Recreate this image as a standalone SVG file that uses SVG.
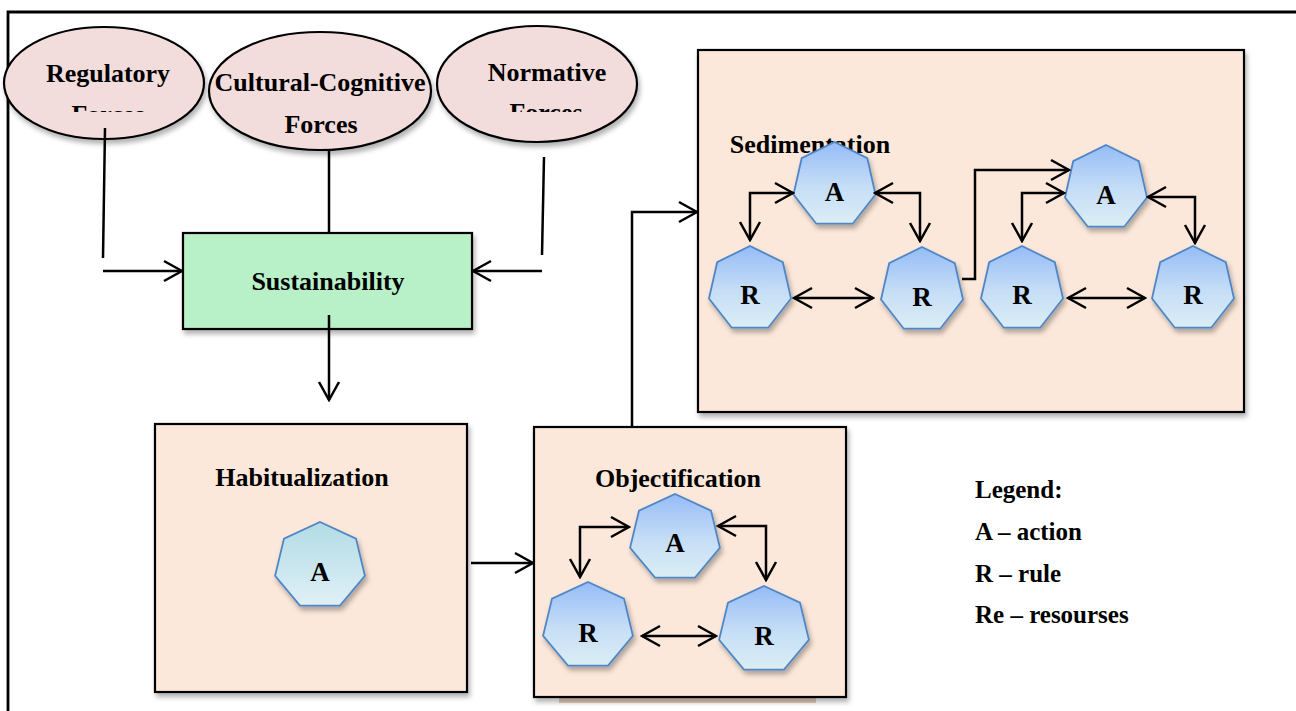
<svg xmlns="http://www.w3.org/2000/svg" width="1296" height="711" viewBox="0 0 1296 711">
  <style>
    .t { font-family: "Liberation Serif", "Times New Roman", serif; font-weight: bold; fill: #000; text-anchor: middle; }
    .big { font-size: 26px; }
    .lbl { font-size: 27px; }
    .leg { font-family: "Liberation Serif", "Times New Roman", serif; font-weight: bold; font-size: 25px; fill: #000; }
    .ell { fill: #f2dcdc; stroke: #000; stroke-width: 2.2; }
    .box { fill: #fce8da; stroke: #000; stroke-width: 2.2; }
    .grn { fill: #b8f0c8; stroke: #000; stroke-width: 2.2; }
    .hb { fill: url(#gBlue); stroke: #4f86c6; stroke-width: 1.8; }
    .ht { fill: url(#gTeal); stroke: #4f86c6; stroke-width: 1.8; }
    .c { fill: none; stroke: #000; stroke-width: 2.5; }
    .e { marker-end: url(#ah); }
    .b { marker-start: url(#ah); marker-end: url(#ah); }
  </style>
  <defs>
    <linearGradient id="gBlue" x1="0" y1="0" x2="0" y2="1">
      <stop offset="0" stop-color="#95bcf7"/>
      <stop offset="0.55" stop-color="#c6def6"/>
      <stop offset="1" stop-color="#dbeef5"/>
    </linearGradient>
    <linearGradient id="gTeal" x1="0" y1="0" x2="0" y2="1">
      <stop offset="0" stop-color="#b2dbe5"/>
      <stop offset="1" stop-color="#e0f0f6"/>
    </linearGradient>
    <filter id="sh" x="-20%" y="-20%" width="140%" height="140%">
      <feDropShadow dx="2" dy="4" stdDeviation="2.5" flood-color="#000" flood-opacity="0.3"/>
    </filter>
    <marker id="ah" markerUnits="userSpaceOnUse" viewBox="-21 -13 23 26" markerWidth="23" markerHeight="26" refX="0" refY="0" orient="auto-start-reverse">
      <path d="M-18,-10 L0,0 L-18,10" fill="none" stroke="#000" stroke-width="2.5"/>
    </marker>
    <polygon id="hep" points="0,-44 36,-27.4 44.9,9.8 20,39.6 -20,39.6 -44.9,9.8 -36,-27.4"/>
    <polygon id="heps" points="0,-43 32.8,-26.8 41,9.6 18.2,38.7 -18.2,38.7 -41,9.6 -32.8,-26.8"/>
    <clipPath id="clipTop"><rect x="0" y="0" width="700" height="112"/></clipPath>
  </defs>

  <!-- outer frame -->
  <path d="M8,711 V12 H1296" fill="none" stroke="#000" stroke-width="2.8"/>

  <g id="regulatory">
    <ellipse class="ell" cx="104" cy="83" rx="100" ry="56" filter="url(#sh)"/>
    <text class="t big" x="108" y="82">Regulatory</text>
    <text class="t big" x="108" y="123" clip-path="url(#clipTop)">Forces</text>
  </g>
  <g id="cultural">
    <ellipse class="ell" cx="320" cy="91" rx="111" ry="59" filter="url(#sh)"/>
    <text class="t big" x="320" y="91">Cultural-Cognitive</text>
    <text class="t big" x="321" y="133">Forces</text>
  </g>
  <g id="normative">
    <ellipse class="ell" cx="537" cy="84" rx="100" ry="58" filter="url(#sh)"/>
    <text class="t big" x="547" y="81">Normative</text>
    <text class="t big" x="546" y="121" clip-path="url(#clipTop)">Forces</text>
  </g>

  <g id="sustainability">
    <rect class="grn" x="183" y="233" width="289" height="96" filter="url(#sh)"/>
    <text class="t big" x="328" y="290">Sustainability</text>
  </g>

  <g id="habitualization">
    <rect class="box" x="155" y="424" width="312" height="268" filter="url(#sh)"/>
    <text class="t big" x="302" y="486">Habitualization</text>
    <use href="#hep" class="ht" x="320" y="566" filter="url(#sh)"/>
    <text class="t lbl" x="320" y="581">A</text>
  </g>

  <g id="objectification">
    <rect x="559" y="697" width="257" height="6" fill="#e6cdb9"/>
    <rect class="box" x="534" y="427" width="312" height="270" filter="url(#sh)"/>
    <text class="t big" x="678" y="487">Objectification</text>
    <use href="#hep" class="hb" x="675" y="538" filter="url(#sh)"/>
    <text class="t lbl" x="675" y="552">A</text>
    <use href="#hep" class="hb" x="588" y="626" filter="url(#sh)"/>
    <text class="t lbl" x="588" y="642">R</text>
    <use href="#hep" class="hb" x="764" y="630" filter="url(#sh)"/>
    <text class="t lbl" x="764" y="645">R</text>
  </g>

  <g id="sedimentation">
    <rect class="box" x="698" y="50" width="546" height="362" filter="url(#sh)"/>
    <text class="t big" x="810" y="153">Sedimentation</text>
    <use href="#heps" class="hb" x="834.5" y="185" filter="url(#sh)"/>
    <text class="t lbl" x="834.5" y="201">A</text>
    <use href="#heps" class="hb" x="750" y="289" filter="url(#sh)"/>
    <text class="t lbl" x="750" y="304">R</text>
    <use href="#heps" class="hb" x="922" y="290" filter="url(#sh)"/>
    <text class="t lbl" x="922" y="306">R</text>
    <use href="#heps" class="hb" x="1106" y="188" filter="url(#sh)"/>
    <text class="t lbl" x="1106" y="204">A</text>
    <use href="#heps" class="hb" x="1022" y="289" filter="url(#sh)"/>
    <text class="t lbl" x="1022" y="304">R</text>
    <use href="#heps" class="hb" x="1193" y="289" filter="url(#sh)"/>
    <text class="t lbl" x="1193" y="304">R</text>
  </g>

  <g id="legend">
    <text class="leg" x="975" y="498">Legend:</text>
    <text class="leg" x="975" y="540">A – action</text>
    <text class="leg" x="975" y="582">R – rule</text>
    <text class="leg" x="975" y="623">Re – resourses</text>
  </g>

  <g id="connectors">
    <path class="c" d="M105,128 L103,258"/>
    <path class="c e" d="M103,271 H182"/>
    <path class="c" d="M329,150 V233"/>
    <path class="c" d="M544,157 L542,255"/>
    <path class="c e" d="M542,271 H473"/>
    <path class="c e" d="M329,315 V400"/>
    <path class="c e" d="M471,563 H533"/>
    <path class="c e" d="M632,427 V212 H697"/>
    <path class="c b" d="M580,577 V527 H629"/>
    <path class="c b" d="M718,526 H766 V580"/>
    <path class="c b" d="M642,636 H716"/>
    <path class="c b" d="M750,240 V193 H793"/>
    <path class="c b" d="M875,193 H920 V241"/>
    <path class="c b" d="M794,298 H873"/>
    <path class="c e" d="M962,279 H975 V170 H1069"/>
    <path class="c b" d="M1022,241 V193 H1064"/>
    <path class="c b" d="M1148,197 H1195 V243"/>
    <path class="c b" d="M1068,298 H1145"/>
  </g>
</svg>
